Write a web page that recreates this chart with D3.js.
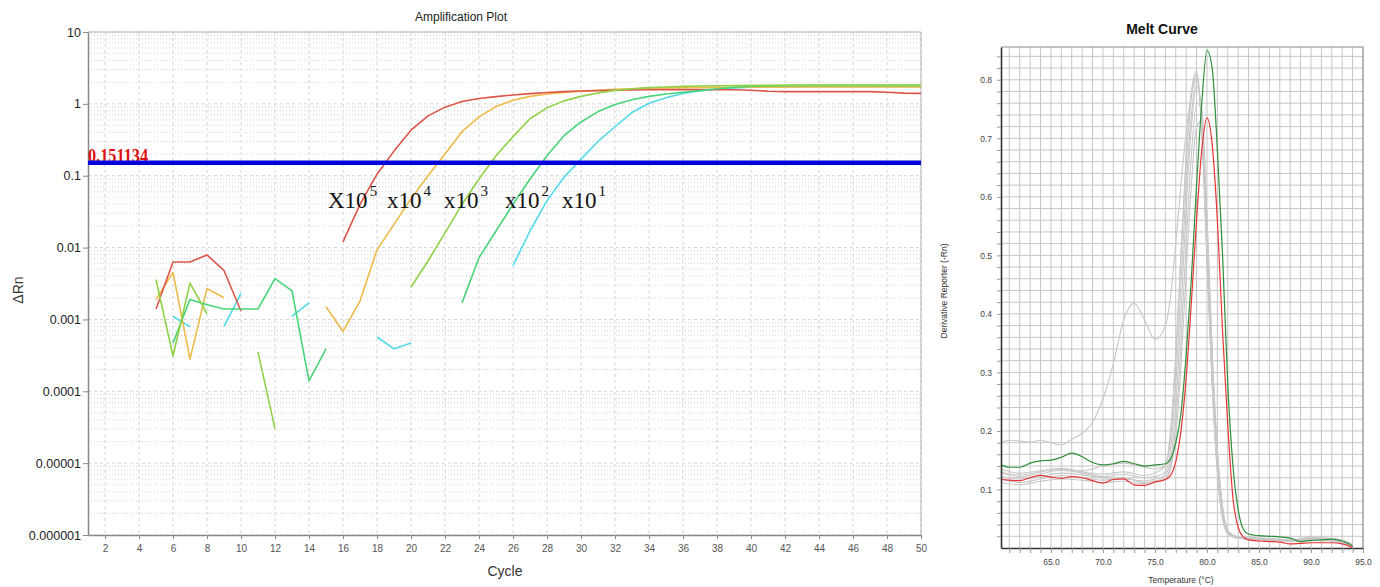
<!DOCTYPE html>
<html>
<head>
<meta charset="utf-8">
<script src="https://cdn.jsdelivr.net/npm/d3@7"></script>
<style>
    body { margin: 0; background: #fff; }
    svg { display: block; font-family: "Liberation Sans", Arial, sans-serif; }
</style>
</head>
<body>
<div id="chart"></div>
<script>
// ---------- amplification plot: delta Rn per cycle (index 0 = cycle 1, null = no point) ----------
const amp_cycles = d3.range(1, 51)
const amp_x_ticks = [2, 4, 6, 8, 10, 12, 14, 16, 18, 20, 22, 24, 26, 28, 30, 32, 34, 36, 38, 40, 42, 44, 46, 48, 50]
const amp_y_ticks = [10, 1, 0.1, 0.01, 0.001, 0.0001, 0.00001, 0.000001]
const amp_y_labels = ['10', '1', '0.1', '0.01', '0.001', '0.0001', '0.00001', '0.000001']
const threshold = 0.151134

const amp_1e5 = [null, null, null, null, 0.0014, 0.0063, 0.0063, 0.0079, 0.0048, 0.0013,
    null, null, null, null, null, 0.012, 0.04, 0.105, 0.22, 0.43,
    0.68, 0.9, 1.08, 1.19, 1.26, 1.33, 1.39, 1.44, 1.48, 1.51,
    1.53, 1.55, 1.56, 1.57, 1.58, 1.58, 1.58, 1.58, 1.57, 1.55,
    1.5, 1.48, 1.48, 1.48, 1.48, 1.48, 1.48, 1.45, 1.41, 1.4]
const amp_1e4 = [null, null, null, null, 0.0019, 0.0045, 0.00028, 0.0027, 0.002, null,
    null, null, null, null, 0.0015, 0.00068, 0.0018, 0.0093, 0.021, 0.048,
    0.1, 0.2, 0.41, 0.66, 0.92, 1.12, 1.27, 1.37, 1.44, 1.5,
    1.55, 1.59, 1.62, 1.65, 1.67, 1.68, 1.69, 1.7, 1.7, 1.71,
    1.71, 1.71, 1.72, 1.72, 1.72, 1.72, 1.72, 1.72, 1.72, 1.72]
const amp_1e3 = [null, null, null, null, 0.0036, 0.00031, 0.0032, 0.0012, null, null,
    0.00035, 0.00003, null, null, null, null, null, null, null, 0.0028,
    0.0065, 0.016, 0.04, 0.09, 0.19, 0.35, 0.62, 0.88, 1.1, 1.27,
    1.42, 1.54, 1.62, 1.68, 1.72, 1.75, 1.77, 1.79, 1.8, 1.81,
    1.81, 1.82, 1.82, 1.82, 1.82, 1.82, 1.82, 1.82, 1.82, 1.82]
const amp_1e2 = [null, null, null, null, null, 0.00047, 0.0019, 0.0016, 0.0014, 0.0014,
    0.0014, 0.0037, 0.0025, 0.00014, 0.00039, null, null, null, null, null,
    null, null, 0.0017, 0.0072, 0.017, 0.04, 0.09, 0.19, 0.36, 0.56,
    0.78, 0.98, 1.14, 1.27, 1.37, 1.45, 1.53, 1.62, 1.7, 1.75,
    1.78, 1.79, 1.8, 1.8, 1.8, 1.8, 1.8, 1.8, 1.8, 1.8]
const amp_1e1 = [null, null, null, null, null, 0.0011, 0.00079, null, 0.0008, 0.0023,
    null, null, 0.0011, 0.0017, null, null, null, 0.00057, 0.00039, 0.00047,
    null, null, null, null, null, 0.0056, 0.017, 0.045, 0.095, 0.17,
    0.3, 0.48, 0.76, 1.02, 1.22, 1.4, 1.52, 1.6, 1.66, 1.7,
    1.72, 1.73, 1.74, 1.74, 1.75, 1.75, 1.75, 1.75, 1.75, 1.75]

const dilution_labels = ['X10', 'x10', 'x10', 'x10', 'x10']
const dilution_exponents = ['5', '4', '3', '2', '1']

// ---------- melt curve: derivative reporter per temperature ----------
const melt_temps = [60.2, 61, 62, 63, 64, 65, 66, 67, 68, 69, 70, 71, 72, 73, 74, 75, 76,
    76.5, 77, 77.5, 78, 78.5, 79, 79.5, 80, 80.5, 81, 81.5, 82, 82.5, 83, 83.5, 84,
    85, 86, 87, 88, 89, 90, 91, 92, 93, 94]
const melt_green = [0.142, 0.138, 0.138, 0.145, 0.149, 0.150, 0.155, 0.162, 0.156, 0.146, 0.142, 0.144, 0.148, 0.144, 0.140, 0.142, 0.144,
    0.152, 0.18, 0.23, 0.33, 0.46, 0.62, 0.76, 0.85, 0.82, 0.68, 0.5, 0.28, 0.14, 0.065, 0.032, 0.024,
    0.021, 0.020, 0.019, 0.017, 0.011, 0.013, 0.014, 0.015, 0.012, 0.004]
const melt_red = [0.117, 0.116, 0.115, 0.120, 0.124, 0.121, 0.119, 0.122, 0.120, 0.115, 0.111, 0.117, 0.118, 0.108, 0.107, 0.113, 0.117,
    0.124, 0.147, 0.2, 0.29, 0.42, 0.56, 0.68, 0.735, 0.69, 0.56, 0.37, 0.21, 0.085, 0.035, 0.019, 0.014,
    0.012, 0.011, 0.010, 0.007, 0.008, 0.009, 0.009, 0.009, 0.007, 0.001]
const melt_grey_hump = [0.181, 0.184, 0.183, 0.181, 0.184, 0.180, 0.176, 0.186, 0.196, 0.215, 0.255, 0.315, 0.39, 0.418, 0.39, 0.356, 0.38,
    0.43, 0.52, 0.62, 0.71, 0.775, 0.805, 0.71, 0.49, 0.28, 0.13, 0.05, 0.025, 0.02, 0.019, 0.018, 0.018,
    0.017, 0.016, 0.015, 0.014, 0.016, 0.019, 0.017, 0.016, 0.014, 0.006]

const grey_temps = [60.2, 62, 64, 66, 68, 70, 72, 74, 75, 76, 76.5, 77, 77.5, 78, 78.5, 79, 79.5,
    80, 80.5, 81, 81.5, 82, 82.5, 83, 84, 86, 88, 90, 92, 94]
const melt_greys = [
    [0.134, 0.128, 0.132, 0.136, 0.130, 0.126, 0.130, 0.124, 0.128, 0.14, 0.2, 0.33, 0.5, 0.66, 0.77, 0.81, 0.72, 0.5, 0.29, 0.14, 0.055, 0.025, 0.019, 0.017, 0.015, 0.014, 0.012, 0.013, 0.012, 0.004],
    [0.128, 0.122, 0.127, 0.133, 0.128, 0.122, 0.126, 0.120, 0.122, 0.13, 0.17, 0.28, 0.45, 0.62, 0.74, 0.80, 0.73, 0.52, 0.3, 0.15, 0.06, 0.027, 0.02, 0.018, 0.016, 0.015, 0.013, 0.016, 0.014, 0.005],
    [0.122, 0.118, 0.122, 0.128, 0.125, 0.120, 0.118, 0.115, 0.118, 0.125, 0.15, 0.24, 0.4, 0.58, 0.72, 0.79, 0.74, 0.54, 0.32, 0.16, 0.065, 0.03, 0.021, 0.018, 0.014, 0.013, 0.012, 0.018, 0.016, 0.006],
    [0.118, 0.112, 0.118, 0.124, 0.120, 0.116, 0.120, 0.112, 0.115, 0.12, 0.14, 0.21, 0.35, 0.52, 0.67, 0.76, 0.75, 0.56, 0.33, 0.16, 0.07, 0.03, 0.022, 0.019, 0.016, 0.014, 0.012, 0.015, 0.013, 0.004],
    [0.112, 0.108, 0.114, 0.118, 0.116, 0.112, 0.114, 0.110, 0.112, 0.118, 0.135, 0.19, 0.31, 0.47, 0.62, 0.72, 0.73, 0.57, 0.34, 0.17, 0.07, 0.03, 0.022, 0.019, 0.017, 0.015, 0.013, 0.014, 0.013, 0.003],
    [0.130, 0.125, 0.13, 0.134, 0.132, 0.14, 0.145, 0.138, 0.135, 0.14, 0.19, 0.32, 0.5, 0.67, 0.78, 0.815, 0.72, 0.5, 0.28, 0.13, 0.05, 0.024, 0.019, 0.017, 0.017, 0.016, 0.014, 0.017, 0.015, 0.005]
]
const melt_y_labels = ['0.1', '0.2', '0.3', '0.4', '0.5', '0.6', '0.7', '0.8']
const melt_x_labels = ['65.0', '70.0', '75.0', '80.0', '85.0', '90.0', '95.0']


const svg = d3.select('#chart')
    .append('svg')
    .attr('width', 1380)
    .attr('height', 587)

// =================== amplification plot ===================
const amp_left = 88, amp_right = 921, amp_top = 32, amp_bottom = 535

const amp_x = d3.scaleLinear().domain([1, 50]).range([amp_left, amp_right])
const amp_y = d3.scaleLog().domain([0.000001, 10]).range([amp_bottom, amp_top])

const amp_grid = svg.append('g')
amp_grid.selectAll('line.vgrid')
    .data(amp_x_ticks)
    .enter()
    .append('line')
    .attr('x1', d => amp_x(d)).attr('x2', d => amp_x(d))
    .attr('y1', amp_top).attr('y2', amp_bottom)
    .attr('stroke', '#d4d4d4')
    .attr('stroke-dasharray', '3,3')
amp_grid.selectAll('line.hgrid')
    .data(amp_y.ticks())
    .enter()
    .append('line')
    .attr('x1', amp_left).attr('x2', amp_right)
    .attr('y1', d => amp_y(d)).attr('y2', d => amp_y(d))
    .attr('stroke', '#d4d4d4')
    .attr('stroke-dasharray', function (d) {
        // decades dashed, the rest dotted
        return amp_y_ticks.includes(d) ? '3,3' : '1,2'
    })

// frame
svg.append('path')
    .attr('d', `M${amp_left},${amp_top}H${amp_right}V${amp_bottom}`)
    .attr('fill', 'none')
    .attr('stroke', '#b4b4b4')

const amp_x_axis = svg.append('g')
    .attr('transform', `translate(0,${amp_bottom})`)
    .call(d3.axisBottom(amp_x).tickValues(amp_x_ticks).tickSize(4).tickPadding(6).tickSizeOuter(0))
amp_x_axis.select('.domain').attr('stroke', '#888').attr('stroke-width', 1.5)
amp_x_axis.selectAll('.tick line').attr('stroke', '#888')
amp_x_axis.selectAll('text')
    .attr('font-family', '"Liberation Sans", Arial, sans-serif')
    .attr('font-size', 10)
    .attr('fill', '#555')

const amp_y_axis = svg.append('g')
    .attr('transform', `translate(${amp_left},0)`)
    .call(d3.axisLeft(amp_y).tickValues(amp_y_ticks).tickFormat((d, i) => amp_y_labels[i]).tickSize(5).tickPadding(2).tickSizeOuter(0))
amp_y_axis.select('.domain').attr('stroke', '#888').attr('stroke-width', 1.5)
amp_y_axis.selectAll('.tick line').attr('stroke', '#888')
amp_y_axis.selectAll('text')
    .attr('font-family', '"Liberation Sans", Arial, sans-serif')
    .attr('font-size', 12.5)
    .attr('fill', '#222')

const amp_series = [
    { values: amp_1e1, color: '#52d9ea' },
    { values: amp_1e4, color: '#eeba48' },
    { values: amp_1e5, color: '#dc5448' },
    { values: amp_1e2, color: '#48d478' },
    { values: amp_1e3, color: '#8fd247' },
]

const amp_line = d3.line()
    .defined(d => d.v !== null)
    .x(d => amp_x(d.c))
    .y(d => amp_y(d.v))

svg.append('g')
    .selectAll('path')
    .data(amp_series)
    .enter()
    .append('path')
    .attr('d', s => amp_line(amp_cycles.map((c, i) => ({ c: c, v: s.values[i] }))))
    .attr('fill', 'none')
    .attr('stroke', s => s.color)
    .attr('stroke-width', 1.6)
    .attr('stroke-linejoin', 'round')

// threshold label first so the line sits over its foot
svg.append('text')
    .attr('x', amp_left)
    .attr('y', amp_y(threshold) - 0.5)
    .attr('font-family', '"Liberation Serif", "Times New Roman", serif')
    .attr('font-weight', 'bold')
    .attr('font-size', 18.5)
    .attr('fill', '#dd1111')
    .attr('textLength', 60)
    .attr('lengthAdjust', 'spacingAndGlyphs')
    .text(String(threshold))
svg.append('line')
    .attr('x1', amp_left).attr('x2', amp_right)
    .attr('y1', amp_y(threshold)).attr('y2', amp_y(threshold))
    .attr('stroke', '#0000dd')
    .attr('stroke-width', 4.5)

// dilution annotations
const dilution_x = [328, 387, 444, 505, 562]
const dil = svg.append('g')
    .attr('font-family', '"Liberation Serif", "DejaVu Serif", serif')
    .attr('fill', '#111')
dilution_labels.forEach(function (label, i) {
    const t = dil.append('text')
        .attr('x', dilution_x[i])
        .attr('y', 208)
        .attr('font-size', 23)
    t.append('tspan').text(label)
    t.append('tspan')
        .attr('font-size', 15)
        .attr('dx', 2)
        .attr('dy', -12)
        .text(dilution_exponents[i])
})

svg.append('text')
    .attr('x', 461)
    .attr('y', 21)
    .attr('text-anchor', 'middle')
    .attr('font-size', 12)
    .attr('fill', '#222')
    .text('Amplification Plot')
svg.append('text')
    .attr('x', 505)
    .attr('y', 576)
    .attr('text-anchor', 'middle')
    .attr('font-size', 14)
    .attr('fill', '#333')
    .text('Cycle')
svg.append('text')
    .attr('transform', 'translate(23,290) rotate(-90)')
    .attr('text-anchor', 'middle')
    .attr('font-size', 14)
    .attr('fill', '#333')
    .text('\u0394Rn')

// =================== melt curve ===================
const melt_left = 1001, melt_right = 1363, melt_top = 47, melt_bottom = 548

const melt_x = d3.scaleLinear().domain([60.2, 95]).range([melt_left, melt_right])
const melt_y = d3.scaleLinear().domain([0, 0.856]).range([melt_bottom, melt_top])

const melt_x_grid = d3.range(61, 95)
const melt_y_grid = d3.range(1, 43).map(k => k * 0.02)

const melt_grid = svg.append('g')
melt_grid.selectAll('line.vgrid')
    .data(melt_x_grid)
    .enter()
    .append('line')
    .attr('x1', d => melt_x(d)).attr('x2', d => melt_x(d))
    .attr('y1', melt_top).attr('y2', melt_bottom)
    .attr('stroke', '#c6c6c6')
melt_grid.selectAll('line.hgrid')
    .data(melt_y_grid)
    .enter()
    .append('line')
    .attr('x1', melt_left).attr('x2', melt_right)
    .attr('y1', d => melt_y(d)).attr('y2', d => melt_y(d))
    .attr('stroke', '#c6c6c6')

const melt_line = d3.line()
    .x(d => melt_x(d[0]))
    .y(d => melt_y(d[1]))
    .curve(d3.curveMonotoneX)

const melt_curves = svg.append('g').attr('fill', 'none')
melt_curves.selectAll('path.grey')
    .data(melt_greys)
    .enter()
    .append('path')
    .attr('d', vals => melt_line(grey_temps.map((t, i) => [t, vals[i]])))
    .attr('stroke', '#c8c8c8')
    .attr('stroke-width', 1.1)
melt_curves.append('path')
    .attr('d', melt_line(melt_temps.map((t, i) => [t, melt_grey_hump[i]])))
    .attr('stroke', '#c8c8c8')
    .attr('stroke-width', 1.1)
melt_curves.append('path')
    .attr('d', melt_line(melt_temps.map((t, i) => [t, melt_green[i]])))
    .attr('stroke', '#2e8e3a')
    .attr('stroke-width', 1.2)
melt_curves.append('path')
    .attr('d', melt_line(melt_temps.map((t, i) => [t, melt_red[i]])))
    .attr('stroke', '#e83434')
    .attr('stroke-width', 1.2)

// frame
svg.append('path')
    .attr('d', `M${melt_left},${melt_top}H${melt_right}V${melt_bottom}`)
    .attr('fill', 'none')
    .attr('stroke', '#8a8a8a')
    .attr('stroke-width', 1.2)

const melt_x_axis = svg.append('g')
    .attr('transform', `translate(0,${melt_bottom})`)
    .call(d3.axisBottom(melt_x)
        .tickValues(d3.range(61, 96))
        .tickFormat(d => d % 5 === 0 ? melt_x_labels[(d - 65) / 5] : '')
        .tickSize(5).tickPadding(6).tickSizeOuter(0))
melt_x_axis.select('.domain').attr('stroke', '#333').attr('stroke-width', 1.6)
melt_x_axis.selectAll('.tick line').attr('stroke', '#999')
melt_x_axis.selectAll('text')
    .attr('font-family', '"Liberation Sans", Arial, sans-serif')
    .attr('font-size', 8.5)
    .attr('fill', '#444')

const melt_y_axis = svg.append('g')
    .attr('transform', `translate(${melt_left},0)`)
    .call(d3.axisLeft(melt_y)
        .tickValues(melt_y_grid)
        .tickFormat((d, i) => (i + 1) % 5 === 0 ? melt_y_labels[(i + 1) / 5 - 1] : '')
        .tickSize(4).tickPadding(5).tickSizeOuter(0))
melt_y_axis.select('.domain').attr('stroke', '#333').attr('stroke-width', 1.6)
melt_y_axis.selectAll('.tick line').attr('stroke', '#999')
melt_y_axis.selectAll('text')
    .attr('font-family', '"Liberation Sans", Arial, sans-serif')
    .attr('font-size', 8.5)
    .attr('fill', '#444')

svg.append('text')
    .attr('x', 1162)
    .attr('y', 34)
    .attr('text-anchor', 'middle')
    .attr('font-size', 14)
    .attr('font-weight', 'bold')
    .attr('fill', '#111')
    .text('Melt Curve')
svg.append('text')
    .attr('x', 1181)
    .attr('y', 583)
    .attr('text-anchor', 'middle')
    .attr('font-size', 8.5)
    .attr('fill', '#333')
    .text('Temperature (\u00b0C)')
svg.append('text')
    .attr('transform', 'translate(947,291) rotate(-90)')
    .attr('text-anchor', 'middle')
    .attr('font-size', 8.5)
    .attr('fill', '#333')
    .text('Derivative Reporter (-Rn)')
</script>
</body>
</html>
